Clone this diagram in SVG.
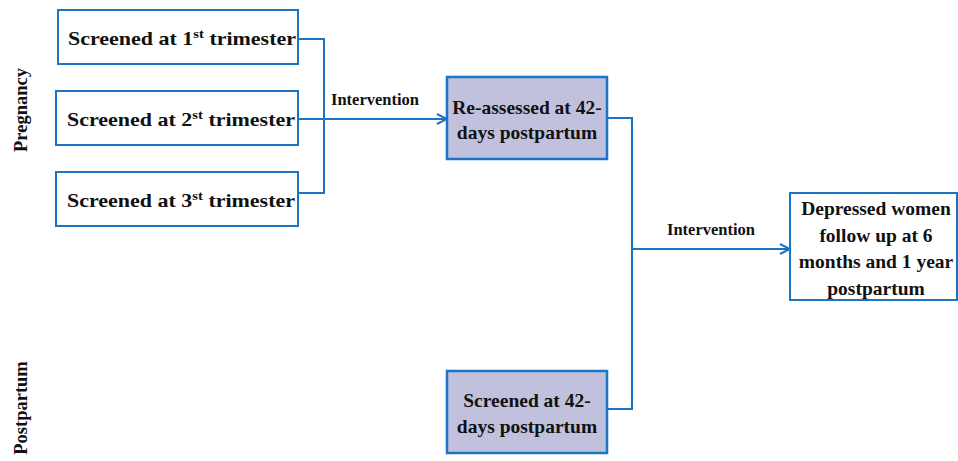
<svg xmlns="http://www.w3.org/2000/svg" width="958" height="461" viewBox="0 0 958 461">
<style>
.box{fill:#ffffff;stroke:#1b75c4;stroke-width:2}
.sh{fill:#c1c1de;stroke:#1b75c4;stroke-width:2.5}
.t{font-family:"Liberation Serif",serif;font-weight:bold;font-size:19.5px;fill:#111}
.c{text-anchor:middle}
.lbl{font-family:"Liberation Serif",serif;font-weight:bold;font-size:16.5px;fill:#111}
.side{font-family:"Liberation Serif",serif;font-weight:bold;font-size:18.5px;fill:#111}
.ln{fill:none;stroke:#1b75c4;stroke-width:2}
</style>
<defs>
<marker id="arr" viewBox="0 0 12 12" refX="11" refY="6" markerWidth="12" markerHeight="12" markerUnits="userSpaceOnUse" orient="auto">
<path d="M1,1 L11,6 L1,11" fill="none" stroke="#1b75c4" stroke-width="2"/>
</marker>
</defs>
<g id="labels">
<text class="side" transform="translate(27,110) rotate(-90)" text-anchor="middle">Pregnancy</text>
<text class="side" transform="translate(27,408) rotate(-90)" text-anchor="middle">Postpartum</text>
</g>
<g id="connectors">
<path class="ln" d="M298,39 H324 V193 H298"/>
<path class="ln" d="M298,119 H447" marker-end="url(#arr)"/>
<path class="ln" d="M607,118 H632 V409 H607"/>
<path class="ln" d="M632,249 H790" marker-end="url(#arr)"/>
<text class="lbl" x="331" y="105">Intervention</text>
<text class="lbl" x="667" y="235">Intervention</text>
</g>
<g id="n1">
<rect class="box" x="58" y="10" width="240" height="54"/>
<text class="t" x="68" y="45" textLength="228" lengthAdjust="spacingAndGlyphs">Screened at 1<tspan font-size="13" dy="-7">st</tspan><tspan dy="7"> trimester</tspan></text>
</g>
<g id="n2">
<rect class="box" x="56" y="91" width="242" height="54"/>
<text class="t" x="67" y="126" textLength="228" lengthAdjust="spacingAndGlyphs">Screened at 2<tspan font-size="13" dy="-7">st</tspan><tspan dy="7"> trimester</tspan></text>
</g>
<g id="n3">
<rect class="box" x="56" y="172" width="242" height="54"/>
<text class="t" x="67" y="207" textLength="228" lengthAdjust="spacingAndGlyphs">Screened at 3<tspan font-size="13" dy="-7">st</tspan><tspan dy="7"> trimester</tspan></text>
</g>
<g id="n4">
<rect class="sh" x="447" y="77" width="160" height="82"/>
<text class="t c" x="527" y="114">Re-assessed at 42-</text>
<text class="t c" x="527" y="139">days postpartum</text>
</g>
<g id="n5">
<rect class="sh" x="447" y="371" width="160" height="82"/>
<text class="t c" x="527" y="407">Screened at 42-</text>
<text class="t c" x="527" y="433">days postpartum</text>
</g>
<g id="n6">
<rect class="box" x="790" y="193" width="167" height="107"/>
<text class="t c" x="876" y="215">Depressed women</text>
<text class="t c" x="876" y="242">follow up at 6</text>
<text class="t c" x="876" y="268">months and 1 year</text>
<text class="t c" x="876" y="295">postpartum</text>
</g>
</svg>
